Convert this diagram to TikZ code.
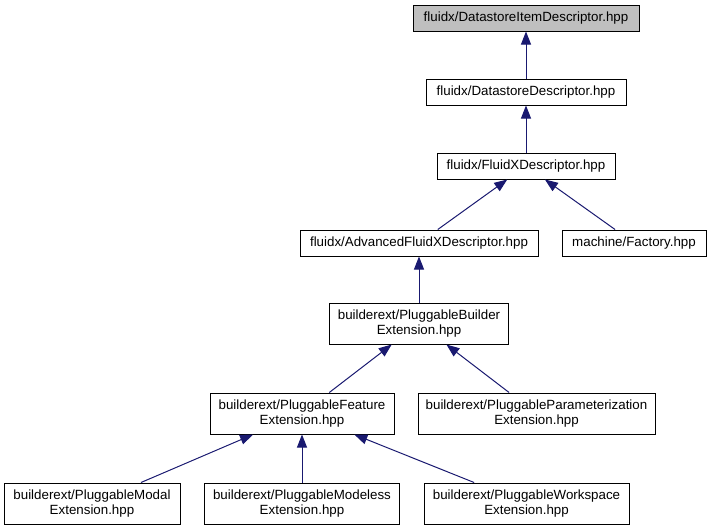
\documentclass[tikz,border=0pt]{standalone}
\usepackage{fontspec}
\setmainfont{Liberation Sans}
\usepackage{xcolor}
\usepackage{tikz}
\usetikzlibrary{arrows.meta}

\definecolor{edgeblue}{HTML}{191970}
\definecolor{rootgray}{HTML}{BFBFBF}

\tikzset{
  hdrbox/.style={draw=black, line width=0.75pt, inner sep=0pt, align=center,
    minimum height=19.5pt, font=\fontsize{10pt}{11.25pt}\selectfont},
  hdrtwo/.style={hdrbox, minimum height=30.75pt},
  incl/.style={draw=edgeblue, line width=0.75pt,
    -{Triangle[length=9.75pt,width=7.5pt]}}
}

\begin{document}
\begin{tikzpicture}[x=0.75pt,y=-0.75pt]
      \useasboundingbox (0,0) rectangle (711,529);

      % header files, one per box
      \node[hdrbox, fill=rootgray, minimum width=169.5pt] (itemdesc) at (526,18) {fluidx/DatastoreItemDescriptor.hpp};
      \node[hdrbox, minimum width=150pt] (storedesc) at (526,92) {fluidx/DatastoreDescriptor.hpp};
      \node[hdrbox, minimum width=133.5pt] (fxdesc) at (526,166) {fluidx/FluidXDescriptor.hpp};
      \node[hdrbox, minimum width=178.5pt] (advdesc) at (419,243) {fluidx/AdvancedFluidXDescriptor.hpp};
      \node[hdrbox, minimum width=108pt] (factory) at (634,243) {machine/Factory.hpp};
      \node[hdrtwo, minimum width=134.25pt] (builderext) at (419,323.5) {builderext/PluggableBuilder\\Extension.hpp};
      \node[hdrtwo, minimum width=138pt] (featureext) at (302,413.5) {builderext/PluggableFeature\\Extension.hpp};
      \node[hdrtwo, minimum width=177.75pt] (paramext) at (536.5,413.5) {builderext/PluggableParameterization\\Extension.hpp};
      \node[hdrtwo, minimum width=132pt] (modalext) at (92,503.5) {builderext/PluggableModal\\Extension.hpp};
      \node[hdrtwo, minimum width=146.25pt] (modelessext) at (302,503.5) {builderext/PluggableModeless\\Extension.hpp};
      \node[hdrtwo, minimum width=153.75pt] (workspaceext) at (526.5,503.5) {builderext/PluggableWorkspace\\Extension.hpp};

      % included-by edges
      \draw[incl] (storedesc) -- (itemdesc);
      \draw[incl] (fxdesc) -- (storedesc);
      \draw[incl] (advdesc) -- (fxdesc);
      \draw[incl] (factory) -- (fxdesc);
      \draw[incl] (builderext) -- (advdesc);
      \draw[incl] (featureext) -- (builderext);
      \draw[incl] (paramext) -- (builderext);
      \draw[incl] (modalext) -- (featureext);
      \draw[incl] (modelessext) -- (featureext);
      \draw[incl] (workspaceext) -- (featureext);
    \end{tikzpicture}
\end{document}
